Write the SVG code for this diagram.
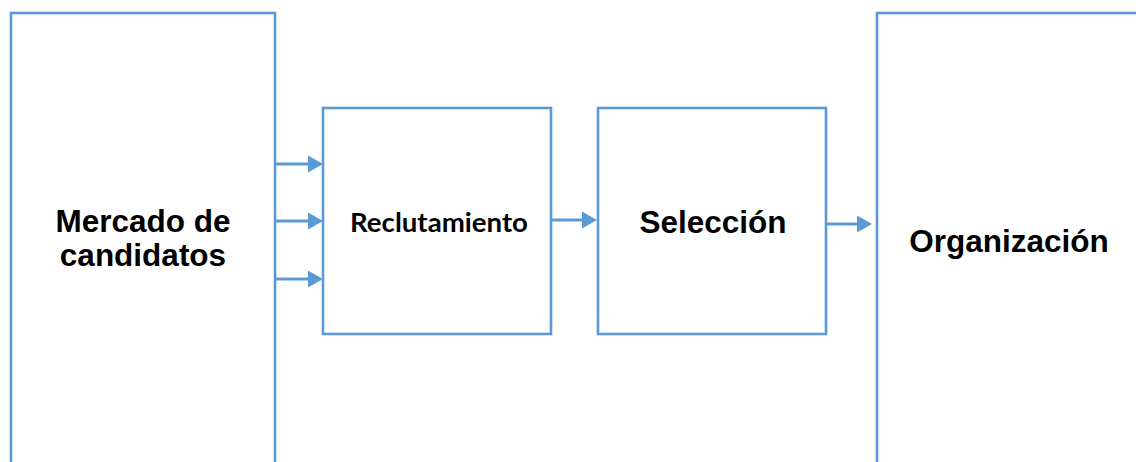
<svg xmlns="http://www.w3.org/2000/svg" width="1136" height="462" viewBox="0 0 1136 462">
<defs>
<style>
.box{fill:#fff;stroke:#5B9BD5;stroke-width:2.6}
.conn{stroke:#5B9BD5;stroke-width:3;fill:none}
.t{font-family:"Liberation Sans",Arial,sans-serif;font-weight:bold;font-size:31.5px;fill:#000;text-anchor:middle}
.c{font-family:Lato,"Open Sans",sans-serif;font-weight:bold;font-size:26px;fill:#000;text-anchor:middle}
</style>
<marker id="ah" markerUnits="userSpaceOnUse" markerWidth="16" markerHeight="18" refX="2" refY="8.5" orient="auto" viewBox="0 0 16 17">
<path d="M0,0 L15,8.5 L0,17 Z" fill="#5B9BD5"/>
</marker>
</defs>
<rect width="1136" height="462" fill="#fff"/>
<g id="mercado">
<rect class="box" x="11" y="13" width="264" height="500"/>
<text class="t" x="143" y="232">Mercado de</text>
<text class="t" x="143" y="266">candidatos</text>
</g>
<g id="reclutamiento">
<rect class="box" x="323" y="108" width="228" height="226"/>
<text class="c" x="439" y="232" textLength="178" lengthAdjust="spacingAndGlyphs">Reclutamiento</text>
</g>
<g id="seleccion">
<rect class="box" x="598" y="108" width="228" height="226"/>
<text class="t" x="713" y="233">Selección</text>
</g>
<g id="organizacion">
<rect class="box" x="877" y="13" width="300" height="500"/>
<text class="t" x="1009" y="252">Organización</text>
</g>
<g id="connectors">
<line class="conn" x1="276" y1="164" x2="310" y2="164" marker-end="url(#ah)"/>
<line class="conn" x1="276" y1="221" x2="310" y2="221" marker-end="url(#ah)"/>
<line class="conn" x1="276" y1="279" x2="310" y2="279" marker-end="url(#ah)"/>
<line class="conn" x1="552" y1="220" x2="584" y2="220" marker-end="url(#ah)"/>
<line class="conn" x1="827" y1="224" x2="859" y2="224" marker-end="url(#ah)"/>
</g>
</svg>
